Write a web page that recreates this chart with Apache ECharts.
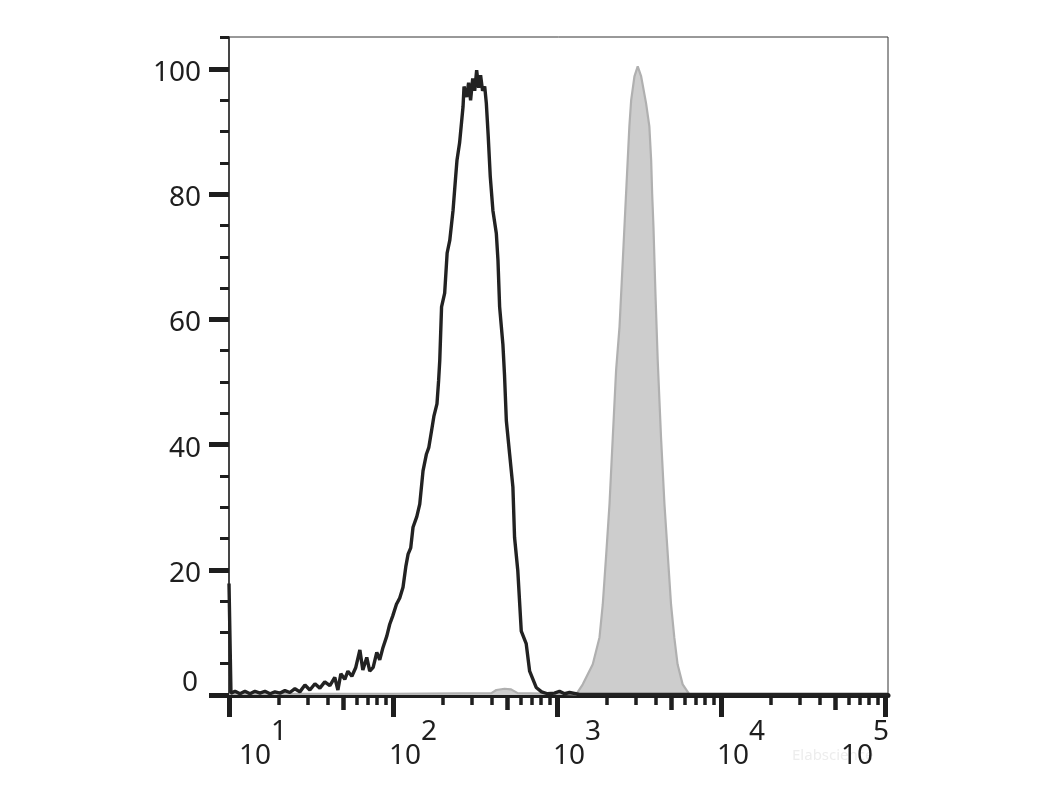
<!DOCTYPE html>
<html>
<head>
<meta charset="utf-8">
<script src="https://cdn.jsdelivr.net/npm/echarts@6/dist/echarts.min.js"></script>
<style>
html,body{margin:0;padding:0;background:#fff;}
#chart{width:1051px;height:788px;}
</style>
</head>
<body>
<div id="chart"></div>
<script>
// x values are log10(fluorescence intensity); y values are % of max
const blackX = [1.000,1.012,1.037,1.067,1.097,1.128,1.158,1.189,1.219,1.250,1.280,1.311,1.341,1.371,1.402,1.432,1.463,1.493,1.524,1.554,1.584,1.615,1.645,1.664,1.682,1.706,1.725,1.749,1.773,1.798,1.816,1.840,1.858,1.879,1.901,1.919,1.939,1.962,1.980,1.998,2.021,2.041,2.061,2.078,2.092,2.108,2.122,2.145,2.163,2.183,2.204,2.218,2.235,2.249,2.268,2.278,2.285,2.296,2.315,2.330,2.346,2.366,2.382,2.390,2.406,2.427,2.433,2.449,2.461,2.473,2.486,2.498,2.510,2.522,2.534,2.546,2.559,2.569,2.580,2.593,2.609,2.630,2.640,2.650,2.670,2.680,2.691,2.711,2.731,2.741,2.761,2.782,2.812,2.833,2.873,2.906,2.942,2.985,3.015,3.046,3.076,3.137,5.018];
const blackY = [17.8,0.3,0.6,0.2,0.6,0.2,0.6,0.3,0.6,0.2,0.5,0.3,0.7,0.4,1.0,0.5,1.6,0.8,1.8,1.1,2.1,1.5,2.8,0.8,3.4,2.5,3.8,3.0,4.4,7.2,4.0,6.0,3.8,4.4,6.8,5.6,7.6,9.4,11.3,12.6,14.5,15.5,17.2,20.5,22.5,23.5,26.8,28.5,30.5,35.8,38.5,39.5,42.2,44.5,46.5,50.2,53.4,62.0,64.2,70.6,72.6,77.4,82.8,85.4,88.2,94.0,97.2,95.5,97.8,95.0,98.5,96.5,99.8,97.0,99.0,96.5,97.2,94.5,89.5,82.8,77.4,73.7,69.4,62.0,56.0,51.0,43.8,38.5,33.2,25.2,19.8,10.2,8.2,3.8,1.2,0.5,0.2,0.3,0.6,0.2,0.4,0.1,0.1];

const grayX = [1.000,2.000,2.600,2.630,2.680,2.720,2.760,3.000,3.117,3.157,3.218,3.259,3.279,3.300,3.320,3.340,3.360,3.381,3.401,3.421,3.441,3.452,3.472,3.492,3.513,3.543,3.563,3.574,3.580,3.588,3.600,3.614,3.634,3.655,3.675,3.695,3.715,3.735,3.766,3.807,5.018];
const grayY = [0.2,0.2,0.3,0.8,1.0,0.9,0.3,0.2,0.1,1.7,4.9,9.2,14.5,22.5,30.5,41.2,51.8,58.8,69.4,80.1,90.8,95.0,98.8,100.4,98.8,94.5,90.8,85.4,80.1,74.8,64.2,53.4,41.2,30.5,22.5,14.5,9.2,4.9,1.7,0.1,0.1];

// tick definitions
const xDecades = [1, 2, 3, 4, 5];               // exponents shown as 10^n
const xMinorMultipliers = [2, 3, 4, 6, 7, 8, 9];
const xMidMultipliers = [5];
const yMajorTicks = [0, 20, 40, 60, 80, 100];
const yMinorTicks = [5, 10, 15, 25, 30, 35, 45, 50, 55, 65, 70, 75, 85, 90, 95, 105];

const X_MIN = 1, X_MAX = 5.018, Y_MIN = 0, Y_MAX = 105.1;

function decadeTicks(mults) {
  const out = [];
  for (let d = 1; d < 5; d++) mults.forEach(m => out.push(d + Math.log10(m)));
  return out;
}
const xMinorTicks = decadeTicks(xMinorMultipliers);
const xMidTicks = decadeTicks(xMidMultipliers);

const FONT = 'Noto Sans';
const INK = '#1e1e1e';
const gridRect = { left: 229, top: 37, width: 659, height: 658 };

const chart = echarts.init(document.getElementById('chart'), null, { renderer: 'canvas' });

function zip(a, b) { return a.map((v, i) => [v, b[i]]); }

const tokenBase = { fontSize: 28, fontFamily: FONT, color: INK, lineHeight: 24 };
function tok(extra) { return Object.assign({}, tokenBase, extra); }

chart.setOption({
  animation: false,
  backgroundColor: '#fff',
  grid: [
    Object.assign({ show: true, borderColor: '#333', borderWidth: 1, containLabel: false }, gridRect),
    Object.assign({ show: false }, gridRect),
    Object.assign({ show: false }, gridRect)
  ],
  xAxis: [
    {
      gridIndex: 0, type: 'value', min: X_MIN, max: X_MAX,
      axisLine: { show: true, onZero: false, lineStyle: { color: INK, width: 5 } },
      axisTick: { show: true, customValues: xDecades, length: 22, lineStyle: { color: INK, width: 5 } },
      axisLabel: {
        show: true, customValues: xDecades, margin: 25,
        formatter: function (v) {
          const n = Math.round(v);
          if (n === 1) return '{s1|' + n + '}\n{b1|10}';
          if (n === 5) return '{s5|' + n + '}\n{b5|10}';
          return '{sm|' + n + '}\n{bm|10}';
        },
        rich: {
          s1: tok({ padding: [0, 0, 0, 100] }),
          b1: tok({ padding: [0, 16, 0, 68] }),
          sm: tok({ padding: [0, 0, 0, 72] }),
          bm: tok({ padding: [0, 16, 0, 40] }),
          s5: tok({ padding: [0, 40, 0, 32] }),
          b5: tok({ padding: [0, 56, 0, 0] })
        }
      },
      splitLine: { show: false }
    },
    {
      gridIndex: 1, type: 'value', min: X_MIN, max: X_MAX,
      axisLine: { show: false, onZero: false },
      axisTick: { show: true, customValues: xMinorTicks, length: 10, lineStyle: { color: INK, width: 3.5 } },
      axisLabel: { show: false },
      splitLine: { show: false }
    },
    {
      gridIndex: 2, type: 'value', min: X_MIN, max: X_MAX,
      axisLine: { show: false, onZero: false },
      axisTick: { show: true, customValues: xMidTicks, length: 15, lineStyle: { color: INK, width: 4.5 } },
      axisLabel: { show: false },
      splitLine: { show: false }
    }
  ],
  yAxis: [
    {
      gridIndex: 0, type: 'value', min: Y_MIN, max: Y_MAX,
      axisLine: { show: true, onZero: false, lineStyle: { color: '#2a2a2a', width: 1.5 } },
      axisTick: { show: true, customValues: yMajorTicks, length: 20, lineStyle: { color: INK, width: 5 } },
      axisLabel: {
        show: true, customValues: yMajorTicks, margin: 28,
        formatter: function (v) { return v === 0 ? '{z|0}' : '{n|' + v + '}'; },
        rich: {
          n: tok({ lineHeight: 28, padding: [8, 0, 0, 0] }),
          z: tok({ lineHeight: 28, padding: [0, 3, 24, 0] })
        }
      },
      splitLine: { show: false }
    },
    {
      gridIndex: 1, type: 'value', min: Y_MIN, max: Y_MAX,
      axisLine: { show: false, onZero: false },
      axisTick: { show: true, customValues: yMinorTicks, length: 9, lineStyle: { color: INK, width: 3 } },
      axisLabel: { show: false },
      splitLine: { show: false }
    },
    {
      gridIndex: 2, type: 'value', min: Y_MIN, max: Y_MAX, show: false,
      splitLine: { show: false }
    }
  ],
  graphic: [
    { type: 'text', left: 792, top: 748, silent: true,
      style: { text: 'Elabscience', fontSize: 15, fontFamily: FONT, fill: '#ededed' } }
  ],
  series: [
    {
      name: 'Control', type: 'line', xAxisIndex: 0, yAxisIndex: 0,
      data: zip(grayX, grayY), showSymbol: false, symbol: 'none',
      lineStyle: { color: '#b0b0b0', width: 2.2 },
      areaStyle: { color: '#cdcdcd', opacity: 1 },
      z: 2
    },
    {
      name: 'Sample', type: 'line', xAxisIndex: 0, yAxisIndex: 0,
      data: zip(blackX, blackY), showSymbol: false, symbol: 'none',
      lineStyle: { color: '#222', width: 3.4 },
      z: 3
    }
  ]
});
</script>
</body>
</html>
